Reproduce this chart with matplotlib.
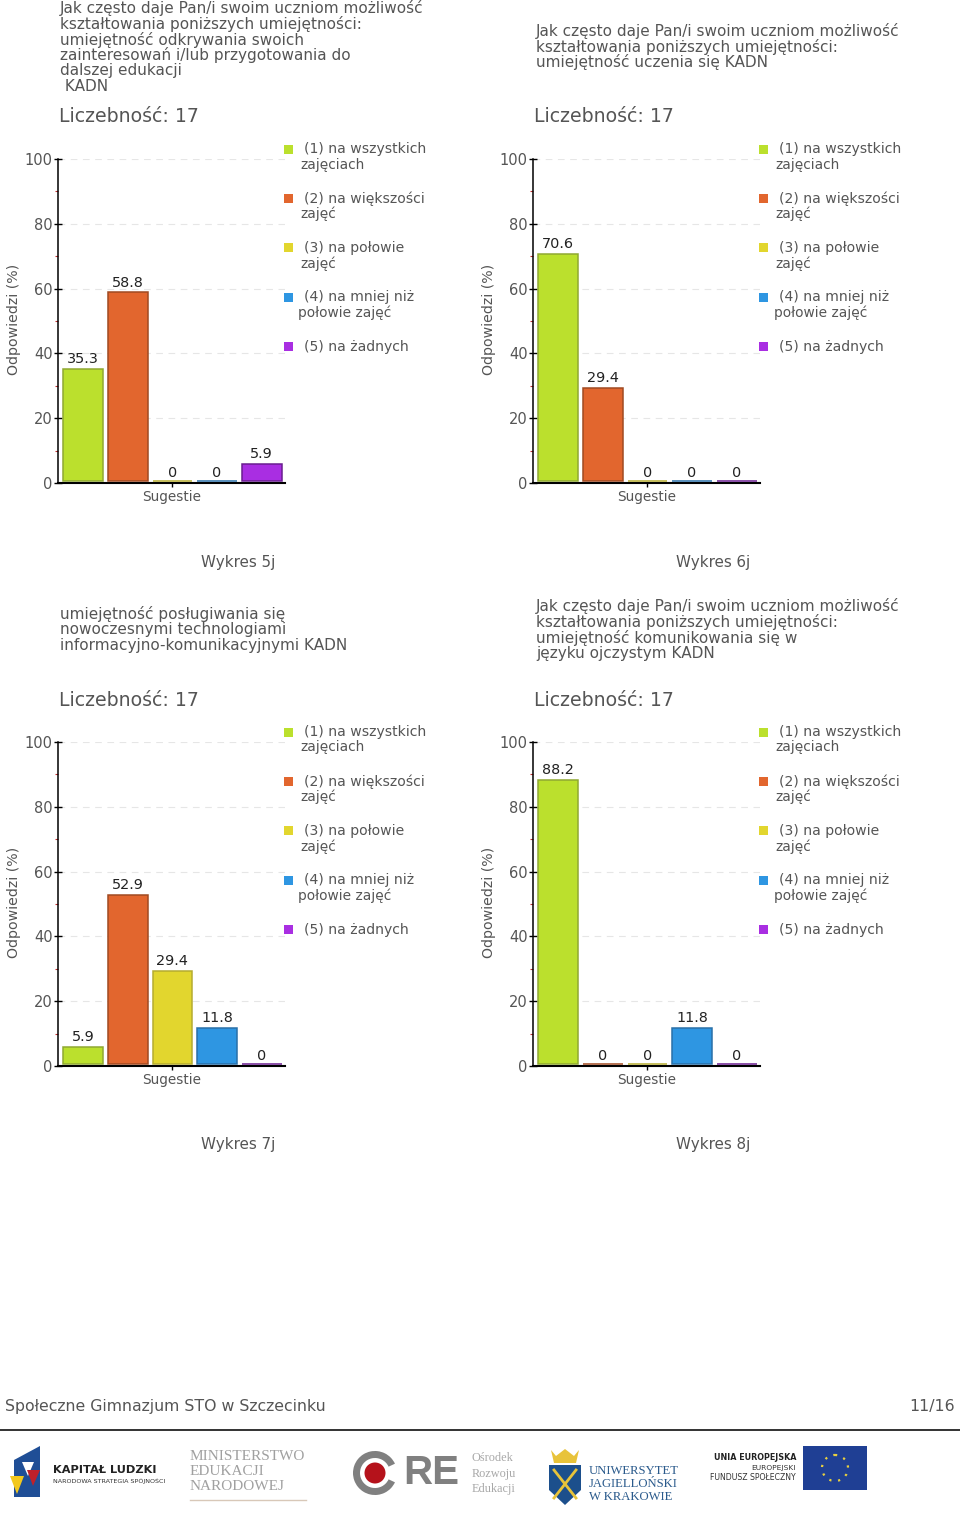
import matplotlib
matplotlib.use("Agg")
import matplotlib.pyplot as plt
from matplotlib.patches import Rectangle, Circle, Wedge, Polygon

plt.rcParams['font.family'] = ['DejaVu Sans']

W, H = 960, 1518
legend_lines = [["(1) na wszystkich", "zajęciach"], ["(2) na większości", "zajęć"],
                ["(3) na połowie", "zajęć"], ["(4) na mniej niż", "połowie zajęć"], ["(5) na żadnych"]]
colors = ["#BBE02D", "#E2662E", "#E2D62E", "#2E96E2", "#A92EE2"]
edges = ["#8FA832", "#A04A22", "#B5AC30", "#2A70A8", "#6A1E90"]

values_5j = [35.3, 58.8, 0, 0, 5.9]
values_6j = [70.6, 29.4, 0, 0, 0]
values_7j = [5.9, 52.9, 29.4, 11.8, 0]
values_8j = [88.2, 0, 0, 11.8, 0]

title_5j = ["Jak często daje Pan/i swoim uczniom możliwość", "kształtowania poniższych umiejętności:",
            "umiejętność odkrywania swoich", "zainteresowań i/lub przygotowania do", "dalszej edukacji", " KADN"]
title_6j = ["Jak często daje Pan/i swoim uczniom możliwość", "kształtowania poniższych umiejętności:",
            "umiejętność uczenia się KADN"]
title_7j = ["umiejętność posługiwania się", "nowoczesnymi technologiami", "informacyjno-komunikacyjnymi KADN"]
title_8j = ["Jak często daje Pan/i swoim uczniom możliwość", "kształtowania poniższych umiejętności:",
            "umiejętność komunikowania się w", "języku ojczystym KADN"]

panels = [
    (0, 0, values_5j, title_5j, 8, "Wykres 5j"),
    (475, 0, values_6j, title_6j, 31, "Wykres 6j"),
    (0, 583, values_7j, title_7j, 614, "Wykres 7j"),
    (475, 583, values_8j, title_8j, 606, "Wykres 8j"),
]

GREY = "#555555"
BASE = 0.55  # bars float just above the axis line
fig = plt.figure(figsize=(W / 100, H / 100), dpi=100, facecolor="white")
ov = fig.add_axes([0, 0, 1, 1], zorder=5)
ov.set_xlim(0, W)
ov.set_ylim(H, 0)
ov.axis("off")
ov.patch.set_alpha(0)


def T(x, y, s, size=9.0, color=GREY, ha="left", va="center", **kw):
    ov.text(x, y, s, fontsize=size, color=color, ha=ha, va=va, **kw)


for dx, dy, vals, title, ty, caption in panels:
    left, right = 58 + dx, 285 + dx
    top, bottom = 159 + dy, 483 + dy
    ax = fig.add_axes([left / W, 1 - bottom / H, (right - left) / W, (bottom - top) / H])
    ax.set_xlim(-0.56, 4.52)
    ax.set_ylim(0, 100)
    ax.patch.set_alpha(0)
    for s in ("top", "right"):
        ax.spines[s].set_visible(False)
    ax.spines["left"].set_linewidth(1.1)
    ax.spines["bottom"].set_linewidth(1.5)
    ax.set_axisbelow(True)
    ax.grid(axis="y", color="#E6E6E6", lw=0.8, ls=(0, (6, 5)))
    heights = [max(v - BASE, 0) for v in vals]
    ax.bar(range(5), heights, width=0.89, bottom=BASE, color=colors, edgecolor=edges, linewidth=1.1, zorder=3)
    for i, v in enumerate(vals):
        ax.annotate(f"{v:g}", (i, v), xytext=(0, 2), textcoords="offset points", ha="center", va="bottom",
                    fontsize=10.4, color="#222222", zorder=4)
    ax.set_yticks(range(0, 101, 20))
    ax.set_yticks(range(10, 100, 20), minor=True)
    ax.tick_params(axis="y", which="major", direction="inout", length=6, width=1, color="black",
                   labelsize=10.5, labelcolor=GREY, pad=1)
    ax.tick_params(axis="y", which="minor", length=2, width=0.8, color="#C03030")
    ax.set_xticks([1.98])
    ax.set_xticklabels(["Sugestie"], fontsize=9.8, color=GREY)
    ax.tick_params(axis="x", length=3, width=1, color="black", pad=2)

    T(14 + dx, 319 + dy, "Odpowiedzi (%)", size=10.2, rotation=90, ha="center")
    lh = 15.75
    for j, line in enumerate(title):
        T(60 + dx + (1 if dx else 0), ty + j * lh, line, size=11)
    T(59 + dx, 117 + dy, "Liczebność: 17", size=13.6)
    T(238 + dx, 562 + dy, caption, size=10.9, ha="center")

    for k, lines in enumerate(legend_lines):
        ly = 149 + dy + k * 49.4
        ov.add_patch(Rectangle((284 + dx, ly - 4.5), 9, 9, facecolor=colors[k], edgecolor="none"))
        T(304 + dx, ly, lines[0], size=10.1)
        if len(lines) > 1:
            T(300 + dx - (1.5 if k == 3 else 0), ly + 15.5, lines[1], size=9.9)

# Footer
T(5, 1407, "Społeczne Gimnazjum STO w Szczecinku", size=11.3)
T(955, 1407, "11/16", size=11.3, ha="right")
ov.plot([0, 960], [1430, 1430], color="#222222", lw=1.3)

# Logos: Kapitał Ludzki
ov.add_patch(Polygon([[14, 1460], [40, 1446], [40, 1497], [14, 1497]], facecolor="#1F4E96"))
ov.add_patch(Polygon([[22, 1462], [34, 1462], [28, 1476]], facecolor="white"))
ov.add_patch(Polygon([[27, 1470], [40, 1470], [33, 1486]], facecolor="#C0202A"))
ov.add_patch(Polygon([[10, 1476], [24, 1476], [17, 1494]], facecolor="#F2C81E"))
T(53, 1470, "KAPITAŁ LUDZKI", size=8.2, color="#222222", fontweight="bold")
T(53, 1481, "NARODOWA STRATEGIA SPÓJNOŚCI", size=4.6, color="#333333")

# MEN
for i, s in enumerate(["MINISTERSTWO", "EDUKACJI", "NARODOWEJ"]):
    T(190, 1456 + i * 15.5, s, size=11, color="#A0A0A0", family="Liberation Serif")
ov.plot([190, 306], [1500, 1500], color="#D8C8B8", lw=1)

# ORE
ov.add_patch(Wedge((375, 1473), 22, 25, 335, width=7, facecolor="#808080"))
ov.add_patch(Circle((375, 1473), 10.5, facecolor="#B5121B"))
T(403, 1473, "RE", size=29, color="#808080", fontweight="bold", family="Liberation Sans")
for i, s in enumerate(["Ośrodek", "Rozwoju", "Edukacji"]):
    T(472, 1458 + i * 15.5, s, size=8.8, color="#A8A8A8", family="Liberation Serif")

# UJ
ov.add_patch(Polygon([[549, 1465], [581, 1465], [581, 1490], [565, 1505], [549, 1490]], facecolor="#1C4F8C"))
ov.add_patch(Polygon([[551, 1450], [556, 1456], [565, 1449], [574, 1456], [579, 1450], [576, 1463], [554, 1463]],
                     facecolor="#E8C33A"))
ov.plot([554, 576], [1470, 1498], color="#E8C33A", lw=2)
ov.plot([576, 554], [1470, 1498], color="#E8C33A", lw=2)
for i, s in enumerate(["UNIWERSYTET", "JAGIELLOŃSKI", "W KRAKOWIE"]):
    T(589, 1471 + i * 12.8, s, size=9.1, color="#2A5A8C", family="Liberation Serif")

# EU
T(796, 1458, "UNIA EUROPEJSKA", size=5.8, color="#222222", ha="right", fontweight="bold")
T(796, 1468, "EUROPEJSKI", size=5.4, color="#333333", ha="right")
T(796, 1478, "FUNDUSZ SPOŁECZNY", size=5.6, color="#333333", ha="right")
ov.add_patch(Rectangle((803, 1446), 64, 44, facecolor="#1F3F94"))
ov.add_patch(Circle((835, 1468), 13, fill=False, edgecolor="#E8D040", lw=1.6, ls=(0, (1, 3))))

fig.savefig("out.png", dpi=100, facecolor="white")
